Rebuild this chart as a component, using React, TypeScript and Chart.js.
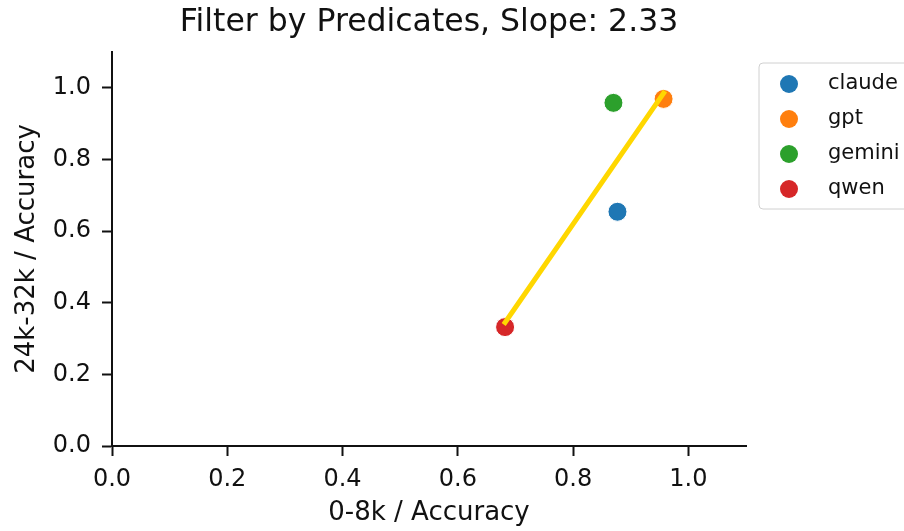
import React, { useEffect, useRef } from "react";
import { Chart, registerables } from "chart.js";

Chart.register(...registerables);

const models = ["claude", "gpt", "gemini", "qwen"];
const shortAcc = [0.877, 0.957, 0.870, 0.682]; // 0-8k accuracy
const longAcc = [0.654, 0.969, 0.958, 0.332]; // 24k-32k accuracy
const modelColors = ["#1f77b4", "#ff7f0e", "#2ca02c", "#d62728"];
const fitX = [0.682, 0.957];
const fitY = [0.345, 0.985];
const tickValues = [0, 0.2, 0.4, 0.6, 0.8, 1.0];
const axisMin = 0;
const axisMax = 1.1;
const slope = 2.33;
const titleText = `Filter by Predicates, Slope: ${slope.toFixed(2)}`;
const xTitle = "0-8k / Accuracy";
const yTitle = "24k-32k / Accuracy";

const FONT = "'DejaVu Sans', sans-serif";
const INK = "#111111";

const overlayPlugin = {
  id: "overlay",
  afterDraw(chart: any) {
    const { ctx, chartArea } = chart;
    ctx.save();
    // title
    ctx.fillStyle = INK;
    ctx.font = `31.5px ${FONT}`;
    ctx.textAlign = "center";
    ctx.textBaseline = "middle";
    ctx.fillText(titleText, (chartArea.left + chartArea.right) / 2, 23);

    // legend
    const bx = chartArea.right + 13;
    const by = 63;
    const bw = 180;
    const bh = 146;
    ctx.beginPath();
    ctx.roundRect(bx, by, bw, bh, 4);
    ctx.fillStyle = "rgba(255,255,255,0.8)";
    ctx.fill();
    ctx.strokeStyle = "#d0d0d0";
    ctx.lineWidth = 1;
    ctx.stroke();
    const scatterSets = chart.data.datasets.filter((d: any) => d.isModel);
    scatterSets.forEach((d: any, i: number) => {
      const cy = by + 21 + i * 35;
      ctx.beginPath();
      ctx.arc(bx + 30, cy, 9, 0, Math.PI * 2);
      ctx.fillStyle = d.backgroundColor;
      ctx.fill();
      ctx.fillStyle = INK;
      ctx.font = `21px ${FONT}`;
      ctx.textAlign = "left";
      ctx.textBaseline = "middle";
      ctx.fillText(d.label, bx + 69, cy);
    });
    ctx.restore();
  },
};

export default function App() {
  const ref = useRef<HTMLCanvasElement | null>(null);

  useEffect(() => {
    document.body.style.margin = "0";
    if (!ref.current) return;
    const datasets: any[] = models.map((m, i) => ({
      type: "scatter",
      label: m,
      isModel: true,
      data: [{ x: shortAcc[i], y: longAcc[i] }],
      backgroundColor: modelColors[i],
      borderColor: "#ffffff",
      borderWidth: 1,
      pointRadius: 9.5,
      order: 1,
    }));
    datasets.push({
      type: "line",
      label: "fit",
      isModel: false,
      data: fitX.map((x, i) => ({ x, y: fitY[i] })),
      borderColor: "#FFD700",
      borderWidth: 5,
      borderCapStyle: "square",
      pointRadius: 0,
      fill: false,
      order: 0,
    });

    const scaleCommon = (title: string) => ({
      type: "linear",
      min: axisMin,
      max: axisMax,
      afterBuildTicks: (s: any) => {
        s.ticks = tickValues.map((v) => ({ value: v }));
      },
      grid: {
        drawOnChartArea: false,
        drawTicks: true,
        tickLength: 10,
        tickWidth: 2,
        tickColor: INK,
      },
      border: { display: true, color: INK, width: 2 },
      ticks: {
        color: INK,
        font: { family: FONT, size: 24 },
        padding: 11,
        callback: (v: any) => Number(v).toFixed(1),
      },
      title: {
        display: true,
        text: title,
        color: INK,
        font: { family: FONT, size: 26 },
      },
    });

    const xScale: any = scaleCommon(xTitle);
    xScale.position = "bottom";
    xScale.ticks.padding = 9;
    xScale.title.padding = { top: 2, bottom: 2 };
    xScale.afterFit = (s: any) => {
      s.height = 85;
    };
    const yScale: any = scaleCommon(yTitle);
    yScale.position = "left";
    yScale.title.padding = { top: 12, bottom: 12 };
    yScale.afterFit = (s: any) => {
      s.width = 112;
    };

    const chart = new Chart(ref.current, {
      type: "scatter",
      data: { datasets },
      options: {
        animation: false,
        responsive: true,
        maintainAspectRatio: false,
        layout: { padding: { top: 52, right: 158, left: 0, bottom: 0 } },
        plugins: {
          legend: { display: false },
          tooltip: { enabled: false },
          title: { display: false },
        },
        scales: { x: xScale, y: yScale },
      } as any,
      plugins: [overlayPlugin],
    });
    return () => chart.destroy();
  }, []);

  return (
    <div style={{ width: 904, height: 531, position: "relative" }}>
      <canvas ref={ref} />
    </div>
  );
}
